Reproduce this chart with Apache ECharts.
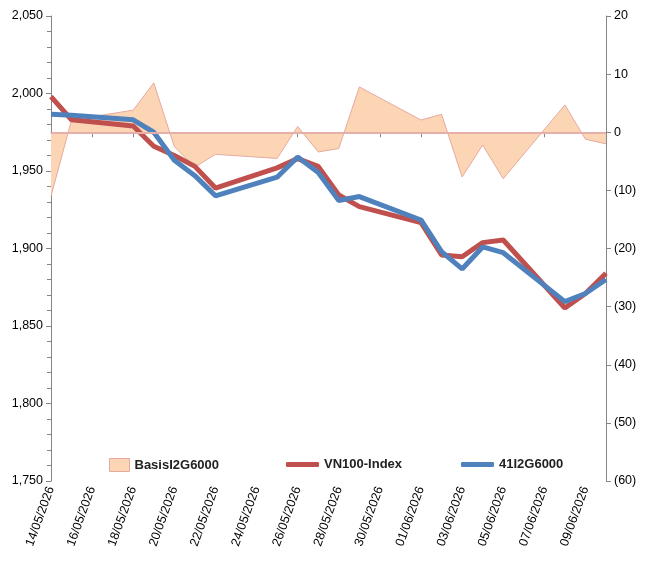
<!DOCTYPE html>
<html><head><meta charset="utf-8">
<script src="https://cdn.jsdelivr.net/npm/echarts@6/dist/echarts.min.js"></script>
<style>html,body{margin:0;padding:0;background:#fff}#c{width:648px;height:565px}</style>
</head><body><div id="c"></div>
<script>
const days = ['14/05/2026','15/05/2026','16/05/2026','17/05/2026','18/05/2026','19/05/2026','20/05/2026','21/05/2026','22/05/2026','23/05/2026','24/05/2026','25/05/2026','26/05/2026','27/05/2026','28/05/2026','29/05/2026','30/05/2026','31/05/2026','01/06/2026','02/06/2026','03/06/2026','04/06/2026','05/06/2026','06/06/2026','07/06/2026','08/06/2026','09/06/2026','10/06/2026'];
const vn100 = [1998,1983,null,null,1979,1966,1960,1953,1939,null,null,1952,1958,1953,1934.5,1927,null,null,1916.7,1895.8,1894.7,1903.8,1905.5,null,null,1861.6,1871,1884];
const fut = [1986.6,1986,null,null,1983,1975,1957,1947,1934,null,null,1946,1959,1949,1931,1933.5,null,null,1918.4,1898,1886.8,1901,1897.3,null,null,1865.7,1871,1880];
const basis = [-11,2.1,null,null,3.8,8.5,-2.5,-6,-3.8,null,null,-4.5,1,-3.4,-2.8,7.8,null,null,2.1,3.1,-7.7,-2.2,-8,null,null,4.7,-1.2,-2];
const chart = echarts.init(document.getElementById('c'));
const txt = {fontFamily:'Arial, Liberation Sans', fontSize:12.5, color:'#000'};
const lt = Object.assign({},txt,{fontWeight:'bold',color:'#222',fontSize:13});
chart.setOption({
  animation:false,
  grid:{left:51,right:42,top:16,bottom:84,containLabel:false},
  legend:[
    {data:[{name:'BasisI2G6000',icon:'rect',itemStyle:{color:'#FCD5B5',borderColor:'#E6A9A0',borderWidth:1}}],left:104,top:453,itemWidth:20,itemHeight:13,itemGap:2,textStyle:lt},
    {data:[{name:'VN100-Index',icon:'roundRect'}],left:281,top:453,itemWidth:33,itemHeight:5,textStyle:lt},
    {data:[{name:'41I2G6000',icon:'roundRect'}],left:456,top:453,itemWidth:33,itemHeight:5,textStyle:lt}
  ],
  xAxis:{type:'category',data:days,boundaryGap:false,
    axisLine:{lineStyle:{color:'#868686'}},
    axisTick:{interval:1,length:5,lineStyle:{color:'#868686'}},
    axisLabel:Object.assign({},txt,{interval:1,rotate:70,margin:6})},
  yAxis:[
    {type:'value',min:1750,max:2050,interval:50,splitLine:{show:false},
     axisLine:{show:true,lineStyle:{color:'#868686'}},
     axisTick:{show:true,length:5,lineStyle:{color:'#868686'}},
     minorTick:{show:true,splitNumber:5,length:4,lineStyle:{color:'#868686'}},
     axisLabel:Object.assign({},txt,{formatter:v=>v.toLocaleString('en-US')})},
    {type:'value',min:-60,max:20,interval:10,splitLine:{show:false},
     axisLine:{show:true,lineStyle:{color:'#868686'}},
     axisTick:{show:true,length:5,lineStyle:{color:'#868686'}},
     axisLabel:Object.assign({},txt,{formatter:v=>v<0?'('+(-v)+')':String(v)})}
  ],
  series:[
    {name:'BasisI2G6000',type:'line',yAxisIndex:1,data:basis,connectNulls:true,symbol:'none',
     lineStyle:{color:'#E6A9A0',width:1},itemStyle:{color:'#FCD5B5'},
     areaStyle:{color:'#FCD5B5',opacity:1},
     markLine:{silent:true,symbol:'none',label:{show:false},lineStyle:{color:'#E6B0AA',width:2,type:'solid'},data:[{yAxis:0}]}},
    {name:'VN100-Index',type:'line',data:vn100,connectNulls:true,symbol:'none',
     lineStyle:{color:'#C0504D',width:5},itemStyle:{color:'#C0504D'}},
    {name:'41I2G6000',type:'line',data:fut,connectNulls:true,symbol:'none',
     lineStyle:{color:'#4F81BD',width:5},itemStyle:{color:'#4F81BD'}}
  ]
});
</script></body></html>
